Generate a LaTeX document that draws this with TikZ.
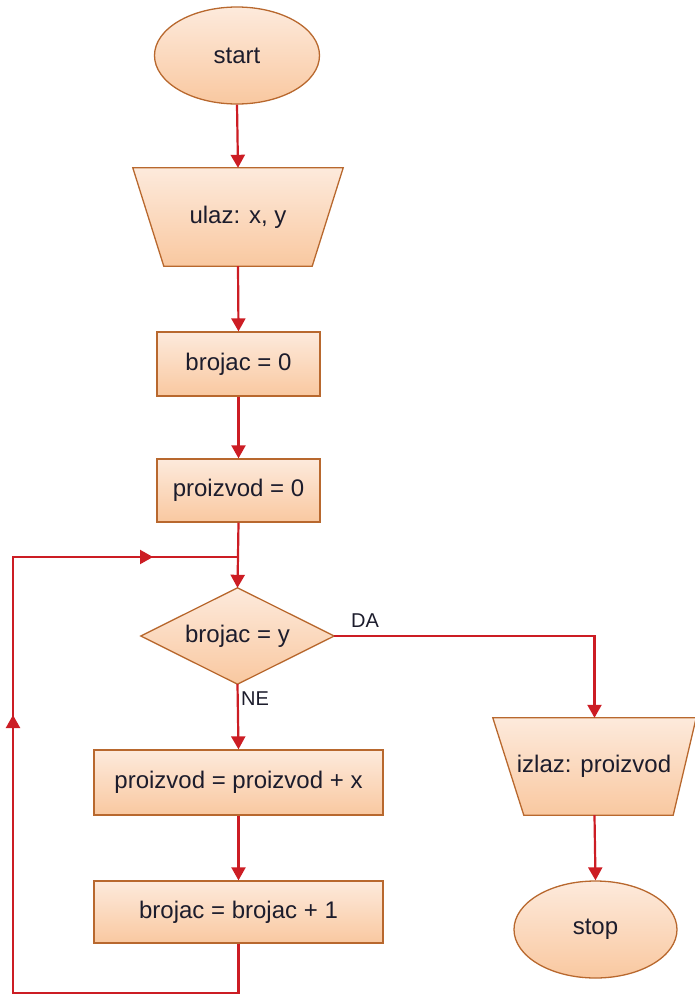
\documentclass[tikz,border=0pt]{standalone}
\usepackage{fontspec}
\setmainfont{Liberation Sans}
\usetikzlibrary{shapes.geometric,arrows.meta}
\definecolor{fillTop}{HTML}{FDEADC}
\definecolor{fillBot}{HTML}{F9C8A0}
\definecolor{border}{HTML}{B8682E}
\definecolor{flow}{HTML}{CC1D24}
\definecolor{txt}{HTML}{1C1C2C}
\begin{document}
\begin{tikzpicture}[x=1pt,y=-1pt,
  shapefill/.style={draw=border, line width=1.3pt, top color=fillTop, bottom color=fillBot},
  box/.style={shapefill, text=txt, font=\fontsize{24}{28}\selectfont, inner sep=0pt},
  label/.style={text=txt, font=\fontsize{20}{24}\selectfont, inner sep=0pt, anchor=base west},
  ghost/.style={text=txt, font=\fontsize{24}{28}\selectfont, inner sep=0pt},
  flowline/.style={draw=flow, line width=2.2pt, -{Triangle[width=14pt,length=13pt]}},
  plainline/.style={draw=flow, line width=2.2pt}
]
\useasboundingbox (0,0) rectangle (694,996);

% start
\node[box, ellipse, minimum width=165pt, minimum height=97pt] (start) at (237,55.5) {start};

% input trapezoid
\node[ghost, minimum width=210pt, minimum height=98pt] (in) at (238,217) {};
\path[shapefill] (in.north west) -- (in.north east) -- ([xshift=-31pt]in.south east) -- ([xshift=31pt]in.south west) -- cycle;
\node[ghost] at (in.center) {ulaz: x, y};

% assignments
\node[box, rectangle, minimum width=163pt, minimum height=64pt] (b0) at (238.5,364) {brojac = 0};
\node[box, rectangle, minimum width=163pt, minimum height=63pt] (p0) at (238.5,490.5) {proizvod = 0};

% decision
\node[ghost, minimum width=193pt, minimum height=96pt] (dec) at (237.5,636) {};
\path[shapefill] (dec.north) -- (dec.east) -- (dec.south) -- (dec.west) -- cycle;
\node[ghost] at (dec.center) {brojac = y};

% loop body
\node[box, rectangle, minimum width=289pt, minimum height=65pt] (p1) at (238.5,782.5) {proizvod = proizvod + x};
\node[box, rectangle, minimum width=289pt, minimum height=62pt] (b1) at (238.5,912) {brojac = brojac + 1};

% output trapezoid
\node[ghost, minimum width=203pt, minimum height=97pt] (out) at (594.5,766.5) {};
\path[shapefill] (out.north west) -- (out.north east) -- ([xshift=-23pt]out.south east) -- ([xshift=31pt]out.south west) -- cycle;
\node[ghost] at (594,766) {izlaz: proizvod};

% stop
\node[box, ellipse, minimum width=163pt, minimum height=97pt] (stop) at (595.5,929.5) {stop};

% connectors
\draw[flowline] (start.south) -- (in.north);
\draw[flowline] (in.south) -- (b0.north);
\draw[flowline] (b0.south) -- (p0.north);
\draw[flowline] (p0.south) -- (dec.north);
\draw[flowline] (dec.south) -- (p1.north);
\draw[flowline] (p1.south) -- (b1.north);
\draw[flowline] (dec.east) -| (out.north);
\draw[flowline] (out.south) -- (stop.north);

% loop back
\coordinate (bl) at (13,993);
\coordinate (tl) at (13,557);
\coordinate (join) at (237.5,557);
\coordinate (upmid) at (13,715);
\coordinate (rmid) at (153,557);
\draw[plainline, line join=miter] (b1.south) -- (b1.south |- bl) -- (bl) -- (tl) -- (join);
\draw[flowline] (bl) -- (upmid);
\draw[flowline] (tl) -- (rmid);

% labels
\node[label] (da) at (351,627) {DA};
\node[label] (ne) at (241,705) {NE};
\end{tikzpicture}
\end{document}
